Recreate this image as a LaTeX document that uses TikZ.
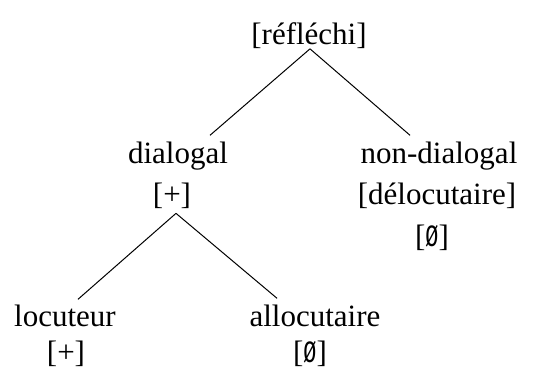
\documentclass[tikz,border=0pt]{standalone}
\usepackage{fontspec}
\setmainfont{Liberation Serif}
\newfontfamily\zfont{Liberation Mono}
\usepackage{graphicx}
\newcommand\zsym{{\zfont\scalebox{0.7}[1]{Ø}}}
\begin{document}
\begin{tikzpicture}[x=1pt,y=-1pt,
  lab/.style={anchor=base, inner sep=0pt, font=\fontsize{31}{37}\selectfont},
  edge/.style={draw, line width=1pt}]
\useasboundingbox (0,0) rectangle (545,374);
\node[lab] (refl) at (309,44.5) {[réfléchi]};
\node[lab] (dia) at (178,163) {dialogal};
\node[lab] (diap) at (172,204.5) {[+]};
\node[lab] (nondia) at (439,163) {non-dialogal};
\node[lab] (deloc) at (437,204.5) {[délocutaire]};
\node[lab] (nz) at (432,246) {[\zsym]};
\node[lab] (loc) at (65,326) {locuteur};
\node[lab] (locp) at (66,362.5) {[+]};
\node[lab] (alloc) at (315,326) {allocutaire};
\node[lab] (az) at (310,362.5) {[\zsym]};
\draw[edge] ([shift={(1,0)}]refl.south) -- ([shift={(32,-6)}]dia.north);
\draw[edge] ([shift={(1,0)}]refl.south) -- ([shift={(-29,-6)}]nondia.north);
\draw[edge] ([shift={(4,4.5)}]diap.south) -- ([shift={(13,-5)}]loc.north);
\draw[edge] ([shift={(4,4.5)}]diap.south) -- ([shift={(-38,-6)}]alloc.north);
\end{tikzpicture}
\end{document}
